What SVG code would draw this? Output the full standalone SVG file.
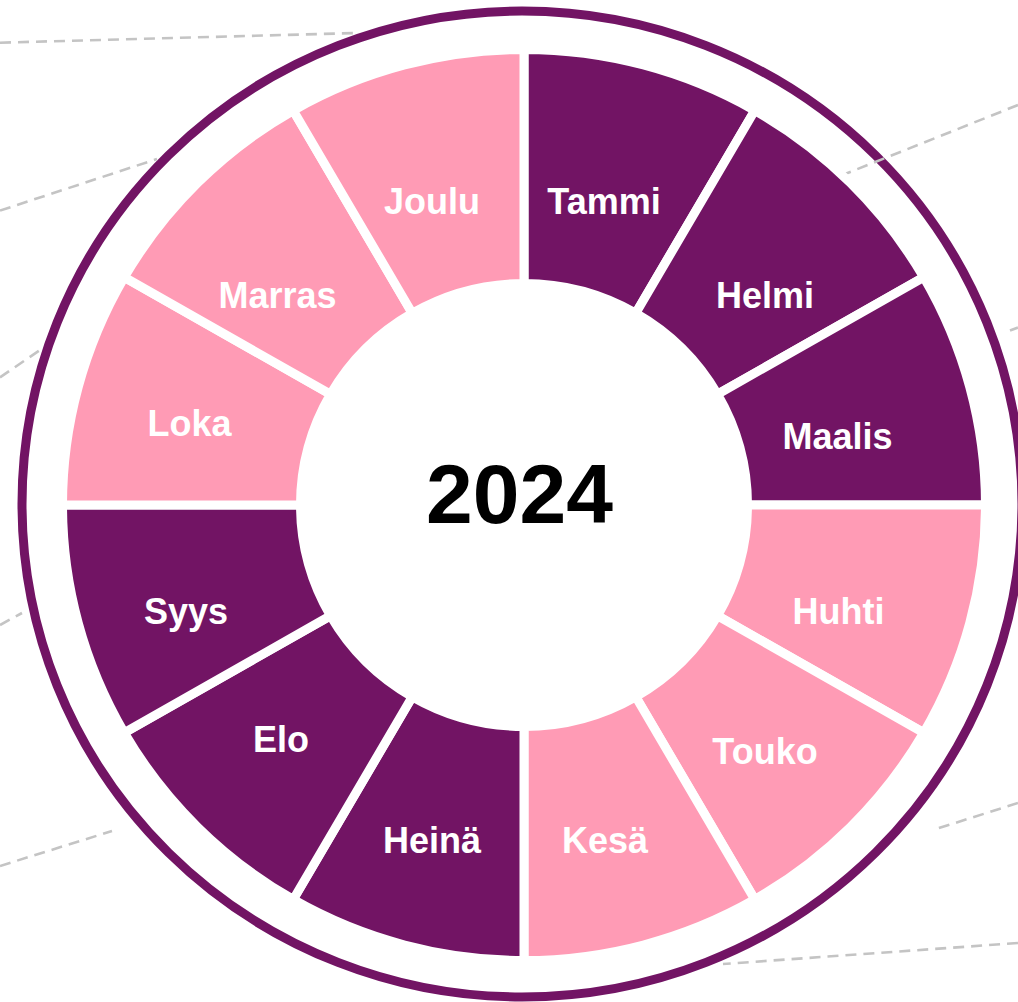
<svg xmlns="http://www.w3.org/2000/svg" width="1018" height="1002" viewBox="0 0 1018 1002">
<style>
.bg{fill:#ffffff}
.ring{fill:none;stroke:#721464;stroke-width:9}
.dash{fill:none;stroke:#c4c4c4;stroke-width:2.6;stroke-dasharray:11 7}
.seg{stroke:#ffffff;stroke-width:9;stroke-linejoin:miter}
.p{fill:#721464}
.k{fill:#ff9bb5}
.lbl{font-family:"Liberation Sans",Arial,sans-serif;font-weight:bold;font-size:36px;fill:#ffffff;text-anchor:middle}
.year{font-family:"Liberation Sans",Arial,sans-serif;font-weight:bold;font-size:84px;fill:#000000;text-anchor:middle}
</style>
<rect class="bg" x="0" y="0" width="1018" height="1002"/>
<g id="ring">
<ellipse class="ring" cx="522" cy="504" rx="500" ry="493"/>
</g>
<g id="connectors">
<line class="dash" x1="0" y1="42.7" x2="357" y2="33"/>
<line class="dash" x1="0" y1="210.6" x2="157" y2="159"/>
<line class="dash" x1="0" y1="377.4" x2="40" y2="350"/>
<line class="dash" x1="0" y1="625" x2="22" y2="613"/>
<line class="dash" x1="0" y1="866" x2="112" y2="831"/>
<line class="dash" x1="1018" y1="105" x2="835" y2="178"/>
<line class="dash" x1="1018" y1="327.5" x2="1010" y2="330.5"/>
<line class="dash" x1="1018" y1="803" x2="936" y2="829"/>
<line class="dash" x1="1018" y1="943" x2="723" y2="964"/>
</g>
<g id="tammi">
<path class="seg p" d="M524 49.5 A461.5 455.5 0 0 1 754.75 110.53 L635.75 313.18 A223.5 221.5 0 0 0 524 283.5 Z"/>
<text class="lbl" x="604" y="214">Tammi</text>
</g>
<g id="helmi">
<path class="seg p" d="M754.75 110.53 A461.5 455.5 0 0 1 923.67 277.25 L717.56 394.25 A223.5 221.5 0 0 0 635.75 313.18 Z"/>
<text class="lbl" x="765" y="308">Helmi</text>
</g>
<g id="maalis">
<path class="seg p" d="M923.67 277.25 A461.5 455.5 0 0 1 985.5 505 L747.5 505 A223.5 221.5 0 0 0 717.56 394.25 Z"/>
<text class="lbl" x="837.5" y="449">Maalis</text>
</g>
<g id="huhti">
<path class="seg k" d="M985.5 505 A461.5 455.5 0 0 1 923.67 732.75 L717.56 615.75 A223.5 221.5 0 0 0 747.5 505 Z"/>
<text class="lbl" x="838.5" y="624">Huhti</text>
</g>
<g id="touko">
<path class="seg k" d="M923.67 732.75 A461.5 455.5 0 0 1 754.75 899.47 L635.75 696.82 A223.5 221.5 0 0 0 717.56 615.75 Z"/>
<text class="lbl" x="765" y="764">Touko</text>
</g>
<g id="kesa">
<path class="seg k" d="M754.75 899.47 A461.5 455.5 0 0 1 524 960.5 L524 726.5 A223.5 221.5 0 0 0 635.75 696.82 Z"/>
<text class="lbl" x="605" y="853">Kesä</text>
</g>
<g id="heina">
<path class="seg p" d="M524 960.5 A461.5 455.5 0 0 1 293.25 899.47 L412.25 696.82 A223.5 221.5 0 0 0 524 726.5 Z"/>
<text class="lbl" x="432" y="853">Heinä</text>
</g>
<g id="elo">
<path class="seg p" d="M293.25 899.47 A461.5 455.5 0 0 1 124.33 732.75 L330.44 615.75 A223.5 221.5 0 0 0 412.25 696.82 Z"/>
<text class="lbl" x="281" y="752">Elo</text>
</g>
<g id="syys">
<path class="seg p" d="M124.33 732.75 A461.5 455.5 0 0 1 62.5 505 L300.5 505 A223.5 221.5 0 0 0 330.44 615.75 Z"/>
<text class="lbl" x="186" y="624">Syys</text>
</g>
<g id="loka">
<path class="seg k" d="M62.5 505 A461.5 455.5 0 0 1 124.33 277.25 L330.44 394.25 A223.5 221.5 0 0 0 300.5 505 Z"/>
<text class="lbl" x="189.5" y="436">Loka</text>
</g>
<g id="marras">
<path class="seg k" d="M124.33 277.25 A461.5 455.5 0 0 1 293.25 110.53 L412.25 313.18 A223.5 221.5 0 0 0 330.44 394.25 Z"/>
<text class="lbl" x="277.5" y="308">Marras</text>
</g>
<g id="joulu">
<path class="seg k" d="M293.25 110.53 A461.5 455.5 0 0 1 524 49.5 L524 283.5 A223.5 221.5 0 0 0 412.25 313.18 Z"/>
<text class="lbl" x="432" y="214">Joulu</text>
</g>
<g id="center">
<text class="year" x="519.5" y="523">2024</text>
</g>
</svg>
